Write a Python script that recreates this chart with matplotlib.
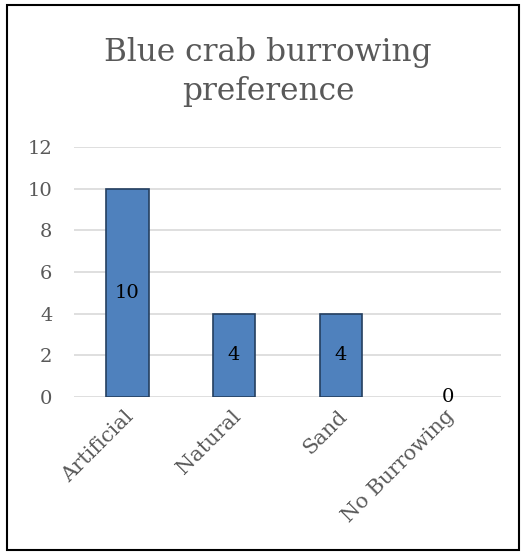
import matplotlib
matplotlib.use("Agg")
import matplotlib.pyplot as plt
import matplotlib.transforms as mtransforms
from matplotlib.patches import Rectangle

categories = ["Artificial", "Natural", "Sand", "No Burrowing"]
counts = [10, 4, 4, 0]
y_ticks = [0, 2, 4, 6, 8, 10, 12]
title = "Blue crab burrowing\npreference"

W, H = 522, 552
DPI = 100
font = "DejaVu Serif"
grey = "#595959"

fig = plt.figure(figsize=(W / DPI, H / DPI), dpi=DPI)
fig.patch.set_facecolor("white")

# chart frame
fig.add_artist(Rectangle((7 / W, 1 - 550 / H), 512 / W, 545 / H,
                         transform=fig.transFigure, fill=False,
                         edgecolor="black", linewidth=1.5))

ax = fig.add_axes([74 / W, 1 - 397 / H, 427 / W, 250 / H])
x = range(len(categories))
bars = ax.bar(x, counts, width=0.4, color="#4f81bd", edgecolor="#243f60",
              linewidth=1.2, zorder=3)
for b, v in zip(bars, counts):
    if v == 0:
        b.set_linewidth(0)
ax.set_xlim(-0.5, len(categories) - 0.5)
ax.set_ylim(0, 12)
ax.set_yticks(y_ticks)
ax.set_yticklabels([str(v) for v in y_ticks], fontfamily=font, fontsize=14,
                   color=grey)
ax.set_xticks(list(x))
ax.set_xticklabels(categories, fontfamily=font, fontsize=15, color=grey,
                   rotation=45, ha="right", va="top", rotation_mode="anchor")
ax.tick_params(axis="both", length=0)
ax.tick_params(axis="y", pad=15.5)
ax.tick_params(axis="x", pad=7)
shift = mtransforms.ScaledTranslation(-3 / DPI, 0, fig.dpi_scale_trans)
for lbl in ax.get_xticklabels():
    lbl.set_transform(lbl.get_transform() + shift)
ax.grid(axis="y", color="#d9d9d9", linewidth=1.2, zorder=0)
for s in ax.spines.values():
    s.set_visible(False)

for xi, v in zip(x, counts):
    ax.text(xi, v / 2, str(v), ha="center", va="center", fontfamily=font,
            fontsize=14, color="black", zorder=4)

fig.text(268 / W, 1 - 72 / H, title, ha="center", va="center",
         multialignment="center", fontfamily=font, fontsize=22.5, color=grey,
         linespacing=1.3)

fig.savefig("out.png", dpi=DPI)
